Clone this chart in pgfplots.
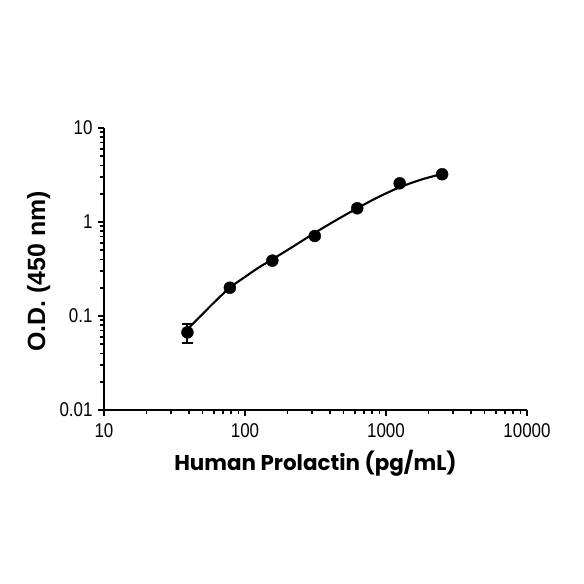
\documentclass[border=0pt]{standalone}
\usepackage{fontspec}
\setmainfont{Liberation Sans}
\newfontfamily\tickfont{Liberation Sans}[FakeStretch=0.85]
\newfontfamily\xlabfont{Poppins}
\usepackage{pgfplots}
\pgfplotsset{compat=1.18}

\begin{document}
\begin{tikzpicture}
\path[use as bounding box] (0,0) rectangle (584bp,584bp);
\begin{axis}[
    at={(104bp,174bp)}, anchor=south west,
    scale only axis,
    width=423bp, height=282bp,
    xmode=log, ymode=log,
    xmin=10, xmax=10000,
    ymin=0.01, ymax=10,
    axis x line*=bottom, axis y line*=left,
    axis line style={line width=2.4bp},
    tick align=outside,
    major tick length=6bp, minor tick length=4bp,
    every tick/.style={black, line width=1.7bp},
    xtick={10,100,1000,10000},
    xticklabels={10,100,1000,10000},
    ytick={0.01,0.1,1,10},
    yticklabels={0.01,0.1,1,10},
    /pgf/number format/assume math mode=true,
    tick label style={font=\tickfont\fontsize{20}{22}\selectfont},
    xticklabel style={yshift=-4bp},
    yticklabel style={xshift=-2bp},
    xlabel={Human Prolactin (pg/mL)},
    ylabel={O.D. (450 nm)},
    every axis x label/.style={at={(axis description cs:0.5,-0.2128)}, anchor=base,
        font=\xlabfont\bfseries\fontsize{21.5}{24}\selectfont},
    every axis y label/.style={at={(axis description cs:-0.139,0.491)}, anchor=base, rotate=90,
        font=\bfseries\fontsize{25}{28}\selectfont},
    clip=false,
]
% fitted curve
\addplot[black, line width=2.1bp, smooth] coordinates {
    (39,0.072) (50,0.105) (62,0.145) (78,0.200) (98,0.255)
    (124,0.325) (156,0.40) (220,0.55) (312,0.765) (440,1.04)
    (625,1.40) (880,1.84) (1250,2.34) (1770,2.82) (2500,3.25)
};
% standards
\addplot[black, only marks, mark=*, mark size=6bp,
    error bars/.cd, y dir=both, y explicit,
    error bar style={line width=2bp},
    error mark options={rotate=90, mark size=5.5bp, line width=2bp}]
    coordinates {
    (39.06,0.067) +- (0,0.015)
    (78.13,0.200) +- (0,0)
    (156.25,0.388) +- (0,0)
    (312.5,0.71) +- (0,0)
    (625,1.40) +- (0,0)
    (1250,2.58) +- (0,0)
    (2500,3.22) +- (0,0)
};
\end{axis}
\end{tikzpicture}
\end{document}
